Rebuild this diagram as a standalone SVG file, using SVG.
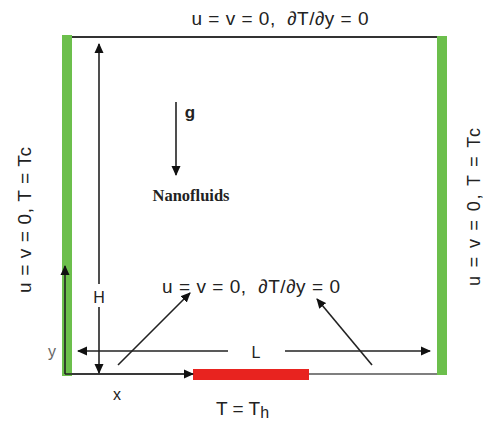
<svg xmlns="http://www.w3.org/2000/svg" width="483" height="423" viewBox="0 0 483 423">
<style>
.t{font-family:"Liberation Sans",Arial,sans-serif;fill:#222}
.ln{stroke:#222;stroke-width:1.6;fill:none}
.wall{fill:#6cbf4c}
</style>
<defs>
<marker id="ah" markerWidth="10" markerHeight="10" refX="9" refY="5" orient="auto" markerUnits="userSpaceOnUse">
<path d="M0,0.5 L10,5 L0,9.5 Z" fill="#111"/>
</marker>
</defs>
<rect width="483" height="423" fill="#fff"/>
<g id="cavity">
<line x1="70" y1="37" x2="440" y2="37" stroke="#333" stroke-width="2"/>
<line x1="70" y1="374" x2="440" y2="374" stroke="#555" stroke-width="1.5"/>
<rect id="left-wall" class="wall" x="62" y="35" width="10" height="341"/>
<rect id="right-wall" class="wall" x="437" y="36" width="10" height="339"/>
<rect id="heater" x="193" y="369" width="116" height="11" fill="#e8231f"/>
</g>
<g id="connectors">
<line class="ln" x1="65" y1="374" x2="65" y2="266" marker-end="url(#ah)"/>
<line class="ln" x1="65" y1="374" x2="193" y2="374" marker-end="url(#ah)"/>
<line class="ln" x1="99" y1="284" x2="99" y2="44" marker-end="url(#ah)"/>
<line class="ln" x1="99" y1="307" x2="99" y2="373" marker-end="url(#ah)"/>
<line class="ln" x1="228" y1="351" x2="78" y2="351" marker-end="url(#ah)"/>
<line class="ln" x1="285" y1="351" x2="430" y2="351" marker-end="url(#ah)"/>
<line class="ln" x1="118" y1="365" x2="190" y2="293" marker-end="url(#ah)"/>
<line class="ln" x1="372" y1="365" x2="317" y2="299" marker-end="url(#ah)"/>
<line class="ln" x1="176" y1="102" x2="176" y2="175" marker-end="url(#ah)"/>
</g>
<g id="labels">
<text class="t" x="280" y="25" font-size="19" text-anchor="middle" textLength="177" lengthAdjust="spacing" xml:space="preserve">u = v = 0,  ∂T/∂y = 0</text>
<text class="t" x="251" y="293" font-size="19" text-anchor="middle" textLength="178" lengthAdjust="spacing" xml:space="preserve">u = v = 0,  ∂T/∂y = 0</text>
<text class="t" font-size="19" text-anchor="middle" transform="translate(31,220) rotate(-90)" textLength="146" lengthAdjust="spacing">u = v = 0, T = Tc</text>
<text class="t" font-size="18" text-anchor="middle" transform="translate(480,207) rotate(-90)" textLength="158" lengthAdjust="spacing">u = v = 0, T = Tc</text>
<text class="t" x="190" y="118" font-size="17" font-weight="bold" text-anchor="middle">g</text>
<text x="191" y="201" font-family="'Liberation Serif','Times New Roman',serif" font-size="16" font-weight="bold" fill="#222" text-anchor="middle" textLength="77" lengthAdjust="spacingAndGlyphs">Nanofluids</text>
<text class="t" x="99" y="303" font-size="16" text-anchor="middle">H</text>
<text class="t" x="256" y="358" font-size="16" text-anchor="middle">L</text>
<text class="t" x="52" y="357" font-size="16" text-anchor="middle" style="fill:#666">y</text>
<text class="t" x="117" y="400" font-size="16" text-anchor="middle">x</text>
<text class="t" x="216" y="415" font-size="19">T = T<tspan font-size="16" dy="3">h</tspan></text>
</g>
</svg>
